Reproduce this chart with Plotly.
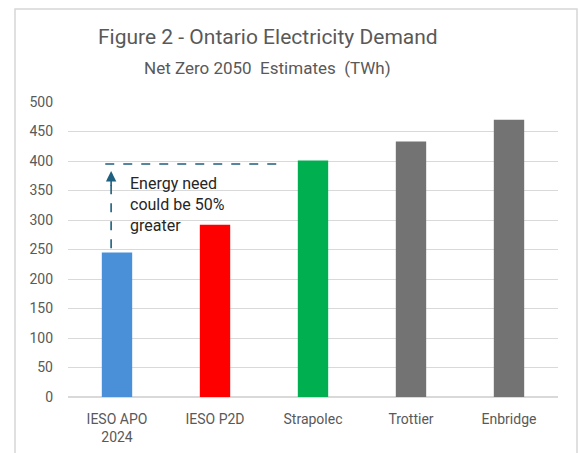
import plotly.graph_objects as go

categories = ["IESO APO<br>2024", "IESO P2D", "Strapolec", "Trottier", "Enbridge"]
values = [245, 292, 401, 433, 470]
colors = ["#4A90D9", "#FF0000", "#00B050", "#737373", "#737373"]
y_ticks = [0, 50, 100, 150, 200, 250, 300, 350, 400, 450, 500]

title_text = "Figure 2 - Ontario Electricity Demand"
subtitle_text = "Net Zero 2050  Estimates  (TWh)"
note_lines = ["Energy need", "could be 50%", "greater"]
arrow_top = 395  # level of the dashed target line (TWh)

W, H = 579, 453
ML, MR, MT, MB = 68, 21, 102, 56
pw, ph = W - ML - MR, H - MT - MB

fig = go.Figure()
fig.add_trace(go.Bar(
    x=categories, y=values, marker=dict(color=colors, line=dict(width=0)),
    width=0.31, hoverinfo="x+y",
))

dash_col = "#1F5F7F"
fig.add_shape(type="line", xref="x", yref="y", x0=-0.06, x1=-0.06,
              y0=values[0] + 7, y1=arrow_top - 18,
              line=dict(color=dash_col, width=1.6, dash="dash"))
fig.add_shape(type="line", xref="x", yref="y", x0=-0.12, x1=1.63,
              y0=arrow_top, y1=arrow_top,
              line=dict(color=dash_col, width=1.6, dash="dash"))
fig.add_annotation(xref="x", yref="y", x=-0.06, y=arrow_top - 12,
                   ax=-0.06, ay=arrow_top - 40, axref="x", ayref="y",
                   showarrow=True, arrowhead=2, arrowsize=1.3, arrowwidth=1.6,
                   arrowcolor=dash_col, text="")
fig.add_annotation(xref="x", yref="y", x=0.11, y=arrow_top - 14,
                   text="<br>".join(note_lines), showarrow=False,
                   xanchor="left", yanchor="top", align="left",
                   font=dict(family="Roboto", size=16, color="#262626"))

fig.add_annotation(xref="paper", yref="paper", x=(268 - ML) / pw, y=(H - MB - 37) / ph,
                   xanchor="center", yanchor="middle",
                   text=title_text, showarrow=False,
                   font=dict(family="Roboto", size=21, color="#595959"))
fig.add_annotation(xref="paper", yref="paper", x=(267 - ML) / pw, y=(H - MB - 68) / ph,
                   xanchor="center", yanchor="middle",
                   text=subtitle_text, showarrow=False,
                   font=dict(family="Roboto", size=17, color="#595959"))

fig.add_shape(type="rect", xref="paper", yref="paper",
              x0=(15 - ML) / pw, x1=(577 - ML) / pw,
              y0=(H - MB - 470) / ph, y1=(H - MB - 9) / ph,
              line=dict(color="#D6D6D6", width=1.5), layer="below")

fig.update_layout(
    width=W, height=H,
    margin=dict(l=ML, r=MR, t=MT, b=MB, autoexpand=False),
    paper_bgcolor="white", plot_bgcolor="white",
    showlegend=False,
)
fig.update_yaxes(range=[0, 500], tickvals=y_ticks, showgrid=True, gridcolor="#D9D9D9",
                 gridwidth=1, zeroline=True, zerolinecolor="#D9D9D9", showline=False,
                 tickfont=dict(family="Roboto", size=14, color="#595959"), ticks="",
                 ticklabelstandoff=14, automargin=False)
fig.update_xaxes(showgrid=False, showline=False, ticks="",
                 tickfont=dict(family="Roboto", size=14, color="#595959"),
                 ticklabelstandoff=12, automargin=False)

fig.write_html("out.html", config={"displayModeBar": False},
               post_script="document.body.style.margin='0';document.body.style.overflow='hidden';")
